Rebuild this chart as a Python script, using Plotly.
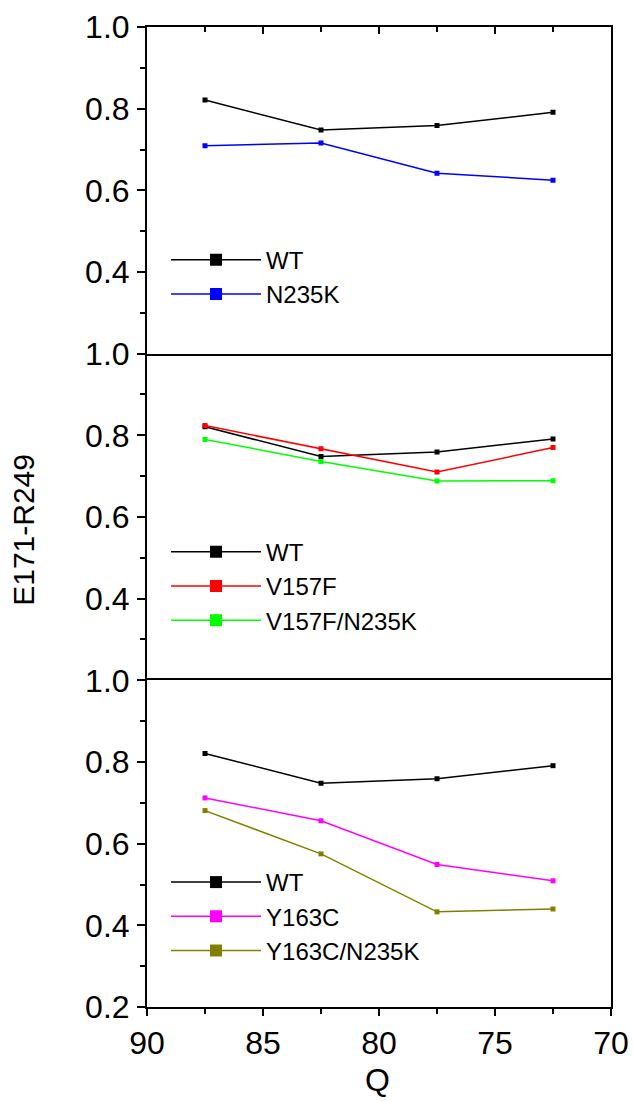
import plotly.graph_objects as go

q = [87.5, 82.5, 77.5, 72.5]

wt = [0.821, 0.748, 0.759, 0.791]
n235k = [0.709, 0.716, 0.642, 0.625]
v157f = [0.824, 0.767, 0.710, 0.770]
v157f_n235k = [0.790, 0.736, 0.688, 0.689]
y163c = [0.712, 0.656, 0.549, 0.509]
y163c_n235k = [0.681, 0.575, 0.433, 0.440]

panels = [
    [("WT", wt, "#000000"), ("N235K", n235k, "#0000ff")],
    [("WT", wt, "#000000"), ("V157F", v157f, "#ff0000"), ("V157F/N235K", v157f_n235k, "#00ff00")],
    [("WT", wt, "#000000"), ("Y163C", y163c, "#ff00ff"), ("Y163C/N235K", y163c_n235k, "#808000")],
]

FONT = "Liberation Sans, Arial, sans-serif"
fig = go.Figure()

for i, series in enumerate(panels):
    n = i + 1
    xa = "x" if n == 1 else f"x{n}"
    ya = "y" if n == 1 else f"y{n}"
    lg = "legend" if n == 1 else f"legend{n}"
    for name, vals, col in series:
        fig.add_trace(go.Scatter(
            x=q, y=vals, name=name, xaxis=xa, yaxis=ya, showlegend=False,
            mode="lines+markers",
            line=dict(color=col, width=1.5),
            marker=dict(symbol="square", size=5, color=col),
        ))
        # legend proxy (no data) so the legend key can have a larger marker
        fig.add_trace(go.Scatter(
            x=[None], y=[None], name=name, xaxis=xa, yaxis=ya, legend=lg,
            mode="lines+markers", hoverinfo="skip",
            line=dict(color=col, width=1.5),
            marker=dict(symbol="square", size=12, color=col),
        ))

domains = [[2/3, 1.0], [1/3, 2/3], [0.0, 1/3]]
axis_line = dict(showline=True, linecolor="black", linewidth=2, showgrid=False, zeroline=False, automargin=False)
tickfont = dict(family=FONT, size=32, color="black")

layout = dict(
    width=634, height=1101,
    margin=dict(l=147, r=23, t=27, b=94, autoexpand=False),
    paper_bgcolor="white", plot_bgcolor="white",
    font=dict(family=FONT, color="black"),
)

for i in range(3):
    n = i + 1
    sfx = "" if n == 1 else str(n)
    ytv = [0.2, 0.4, 0.6, 0.8, 1.0] if n == 3 else [0.4, 0.6, 0.8, 1.0]
    layout[f"yaxis{sfx}"] = dict(
        domain=domains[i], range=[0.2, 1.0], anchor=f"x{sfx}",
        tickvals=ytv, ticktext=[f"{v:.1f}" for v in ytv],
        ticks="outside", ticklen=8, tickwidth=2, tickcolor="black",
        minor=dict(tickvals=[0.3, 0.5, 0.7, 0.9], ticks="outside", ticklen=5, tickwidth=2, tickcolor="black"),
        tickfont=tickfont, ticklabelstandoff=1, mirror=True, **axis_line,
    )
    # right-side inside ticks
    layout[f"yaxis{n + 3}"] = dict(
        domain=domains[i], range=[0.2, 1.0], anchor=f"x{sfx}", overlaying=f"y{sfx}", side="right",
        tickvals=[0.2, 0.4, 0.6, 0.8, 1.0], ticks="inside", ticklen=8, tickwidth=2, tickcolor="black",
        minor=dict(tickvals=[0.3, 0.5, 0.7, 0.9], ticks="inside", ticklen=5, tickwidth=2, tickcolor="black"),
        showticklabels=False, showgrid=False, zeroline=False, showline=False, automargin=False,
    )
    if n == 1:
        xa = dict(range=[90, 70], anchor="y", mirror=True, **axis_line)
        xa.update(side="top", ticks="inside", dtick=5, tick0=70, ticklen=7, tickwidth=2, tickcolor="black",
                  minor=dict(dtick=2.5, ticks="inside", ticklen=5, tickwidth=2, tickcolor="black"),
                  showticklabels=False)
    elif n == 2:
        xa = dict(range=[90, 70], anchor="y2", matches="x", showline=False, showgrid=False,
                  zeroline=False, ticks="", showticklabels=False, automargin=False)
    else:
        xa = dict(range=[90, 70], anchor="y3", mirror=True, matches="x", **axis_line)
        xa.update(ticks="outside", dtick=5, tick0=70, ticklen=7, tickwidth=2, tickcolor="black",
                  minor=dict(dtick=2.5, ticks="outside", ticklen=5, tickwidth=2, tickcolor="black"),
                  tickfont=tickfont)
    layout[f"xaxis{sfx}"] = xa

leg_common = dict(
    x=0.041, xanchor="left", yanchor="top", bgcolor="rgba(0,0,0,0)",
    font=dict(family=FONT, size=24, color="black"),
    itemwidth=90, tracegroupgap=0,
)
layout["legend"] = dict(y=0.785, **leg_common)
layout["legend2"] = dict(y=0.487, **leg_common)
layout["legend3"] = dict(y=0.150, **leg_common)

layout["annotations"] = [
    dict(text="E171-R249", xref="paper", yref="paper", x=-0.265, y=0.487, textangle=-90,
         showarrow=False, font=dict(family=FONT, size=30, color="black"), xanchor="center", yanchor="middle"),
    dict(text="Q", xref="paper", yref="paper", x=0.496, y=-0.0745,
         showarrow=False, font=dict(family=FONT, size=32, color="black"), xanchor="center", yanchor="middle"),
]

fig.update_layout(**layout)
fig.write_html(
    "out.html",
    config={"displayModeBar": False},
    post_script="document.body.style.margin='0';document.body.style.overflow='hidden';",
)
